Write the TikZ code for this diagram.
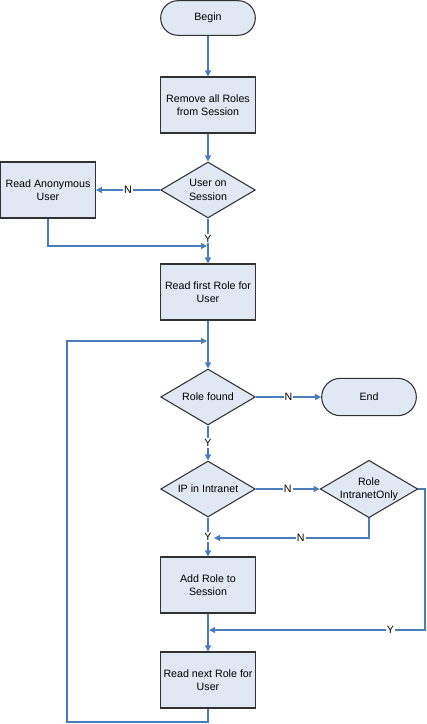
\documentclass[tikz,border=0pt]{standalone}
\usepackage{fontspec}
\setmainfont{Liberation Sans}
\usetikzlibrary{shapes.geometric,arrows.meta}
\definecolor{boxfill}{RGB}{224,232,244}
\definecolor{boxline}{RGB}{50,50,50}
\definecolor{flowblue}{RGB}{74,126,187}
\begin{document}
\begin{tikzpicture}[x=0.75pt,y=-0.75pt,
    every node/.style={font=\fontsize{8pt}{10pt}\selectfont,align=center},
    proc/.style={draw=boxline,fill=boxfill,line width=0.8pt,
      minimum width=71pt,minimum height=42pt,inner sep=1pt},
    term/.style={draw=boxline,fill=boxfill,line width=0.8pt,rounded corners=13pt,
      minimum width=71pt,minimum height=26pt},
    decide/.style={diamond,draw=boxline,fill=boxfill,line width=0.8pt,
      minimum width=71pt,minimum height=42pt,inner sep=0pt,aspect=1.7},
    flow/.style={draw=flowblue,line width=0.8pt,-{Triangle[length=4.5pt,width=4.5pt]}},
    lab/.style={fill=white,inner sep=0.8pt}]
  \useasboundingbox (0,0) rectangle (426,724);

  \node[term] (begin) at (208,18) {Begin};
  \node[proc] (remove) at (208,105) {Remove all Roles\\from Session};
  \node[decide] (usess) at (208,190) {User on\\Session};
  \node[proc] (anon) at (48,190) {Read Anonymous\\User};
  \node[proc] (first) at (208,292) {Read first Role for\\User};
  \node[decide] (found) at (208,397) {Role found};
  \node[term,minimum height=28pt,rounded corners=14pt] (theend) at (369,397) {End};
  \node[decide] (ip) at (208,489) {IP in Intranet};
  \node[decide] (intra) at (369,489) {Role\\IntranetOnly};
  \node[proc] (add) at (208,585) {Add Role to\\Session};
  \node[proc] (next) at (208,680) {Read next Role for\\User};

  \coordinate (join1) at (207,246);
  \coordinate (join2) at (214,538);
  \coordinate (join3) at (209,630);
  \coordinate (rcorner) at (425,630);
  \coordinate (loopbl) at (67,722);
  \coordinate (loopin) at (207,341);

  \draw[flow] (begin) -- (remove);
  \draw[flow] (remove) -- (usess);
  \draw[flow] (usess.west) -- node[lab]{N} (anon.east);
  \draw[flow] (anon.south) |- (join1);
  \draw[flow] (usess.south) -- node[lab,pos=0.45]{Y} (first.north);
  \draw[flow] (first.south) -- (found.north);
  \draw[flow] (next.south) |- (loopbl) |- (loopin);
  \draw[flow] (found.east) -- node[lab]{N} (theend.west);
  \draw[flow] (found.south) -- node[lab]{Y} (ip.north);
  \draw[flow] (ip.east) -- node[lab]{N} (intra.west);
  \draw[flow] (intra.south) |- node[lab,pos=0.72]{N} (join2);
  \draw[flow] (ip.south) -- node[lab]{Y} (add.north);
  \draw[flow] (intra.east) -| (rcorner) -- node[lab,pos=0.16]{Y} (join3);
  \draw[flow] (add.south) -- (next.north);
\end{tikzpicture}
\end{document}
